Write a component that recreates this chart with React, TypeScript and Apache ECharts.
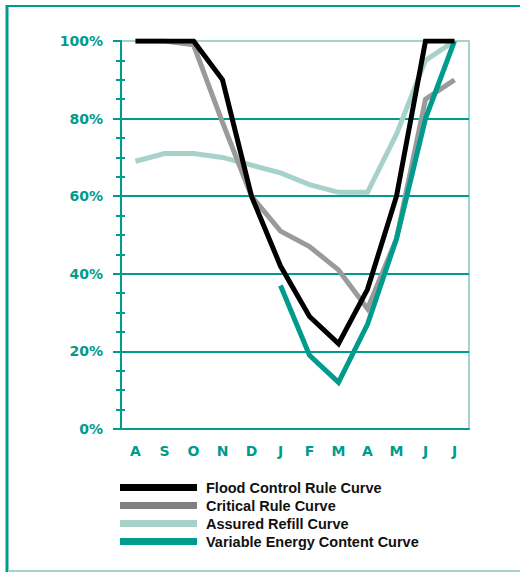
import React, { useEffect, useRef } from "react";
import * as echarts from "echarts";

const months = ["A", "S", "O", "N", "D", "J", "F", "M", "A", "M", "J", "J"];
const floodControl = [100, 100, 100, 90, 60, 42, 29, 22, 36, 60, 100, 100];
const criticalRule = [100, 100, 99, 79, 60, 51, 47, 41, 31, 49, 85, 90];
const assuredRefill = [69, 71, 71, 70, 68, 66, 63, 61, 61, 76, 95, 100];
const variableEnergy = [null, null, null, null, null, 37, 19, 12, 27, 49, 80, 100];
const seriesNames = [
  "Flood Control Rule Curve",
  "Critical Rule Curve",
  "Assured Refill Curve",
  "Variable Energy Content Curve",
];

const TEAL = "#009b8d";
const LIGHT = "#a6d2c9";
const GRAY = "#9a9a9a";

export default function App() {
  const ref = useRef<HTMLDivElement>(null);
  useEffect(() => {
    if (!ref.current) return;
    const chart = echarts.init(ref.current, undefined, { renderer: "svg" });
    const lineBase = (name: string, data: any[], color: string, z: number) => ({
      name,
      type: "line",
      data,
      z,
      showSymbol: false,
      symbol: "none",
      connectNulls: false,
      color,
      lineStyle: { color, width: 5, join: "miter", cap: "butt" },
      itemStyle: { color },
    });
    chart.setOption({
      animation: false,
      backgroundColor: "#fff",
      textStyle: { fontFamily: "Liberation Sans" },
      grid: {
        left: 121,
        right: 51,
        top: 41,
        bottom: 143,
        show: true,
        borderColor: LIGHT,
        borderWidth: 2,
        backgroundColor: "transparent",
      },
      xAxis: {
        type: "category",
        data: months,
        boundaryGap: true,
        axisLine: { lineStyle: { color: TEAL, width: 2 } },
        axisTick: { alignWithLabel: true, length: 8, lineStyle: { color: TEAL, width: 2 } },
        axisLabel: {
          color: TEAL,
          fontWeight: "bold",
          fontSize: 14,
          fontFamily: "DejaVu Sans",
          margin: 15,
        },
        splitLine: { show: false },
      },
      yAxis: [
        {
          type: "value",
          min: 0,
          max: 100,
          interval: 20,
          axisLine: { show: true, lineStyle: { color: TEAL, width: 2 } },
          axisTick: { show: true, length: 8, lineStyle: { color: TEAL, width: 2 } },
          minorTick: { show: true, splitNumber: 4, length: 5, lineStyle: { color: TEAL, width: 2 } },
          axisLabel: {
            color: TEAL,
            fontWeight: "bold",
            fontSize: 14,
            fontFamily: "DejaVu Sans",
            margin: 18,
            formatter: "{value}%",
          },
          splitLine: {
            show: true,
            lineStyle: { color: [TEAL, TEAL, TEAL, TEAL, TEAL, LIGHT], width: 2 },
          },
        },
        {
          type: "value",
          min: 0,
          max: 100,
          interval: 20,
          position: "left",
          axisLine: { show: false },
          axisTick: { show: false, inside: true },
          minorTick: { show: true, splitNumber: 4, length: 4, lineStyle: { color: TEAL, width: 2 } },
          axisLabel: { show: false, inside: true },
          splitLine: { show: false },
        },
      ],
      legend: {
        orient: "vertical",
        left: 120,
        top: 480,
        padding: 0,
        icon: "rect",
        itemWidth: 77,
        itemHeight: 7,
        itemGap: 3,
        itemStyle: { borderWidth: 0 },
        lineStyle: { width: 0 },
        data: [
          { name: seriesNames[0] },
          { name: seriesNames[1], itemStyle: { color: "#808080" } },
          { name: seriesNames[2] },
          { name: seriesNames[3] },
        ],
        textStyle: {
          color: "#111",
          fontWeight: "bold",
          fontSize: 14.5,
          fontFamily: "Liberation Sans",
          lineHeight: 15,
          padding: [0, 0, 0, 4],
        },
      },
      graphic: [
        { type: "line", shape: { x1: 7, y1: 5, x2: 7, y2: 572 }, style: { stroke: TEAL, lineWidth: 3 } },
        { type: "line", shape: { x1: 6, y1: 6, x2: 520, y2: 6 }, style: { stroke: TEAL, lineWidth: 2 } },
        { type: "line", shape: { x1: 8, y1: 571, x2: 520, y2: 571 }, style: { stroke: LIGHT, lineWidth: 2 } },
      ],
      series: [
        lineBase(seriesNames[2], assuredRefill, LIGHT, 2),
        lineBase(seriesNames[1], criticalRule, GRAY, 3),
        lineBase(seriesNames[3], variableEnergy, TEAL, 4),
        lineBase(seriesNames[0], floodControl, "#000", 5),
      ],
    });
    return () => chart.dispose();
  }, []);
  return (
    <div
      ref={ref}
      style={{ position: "fixed", left: 0, top: 0, width: 520, height: 572, background: "#fff" }}
    />
  );
}
